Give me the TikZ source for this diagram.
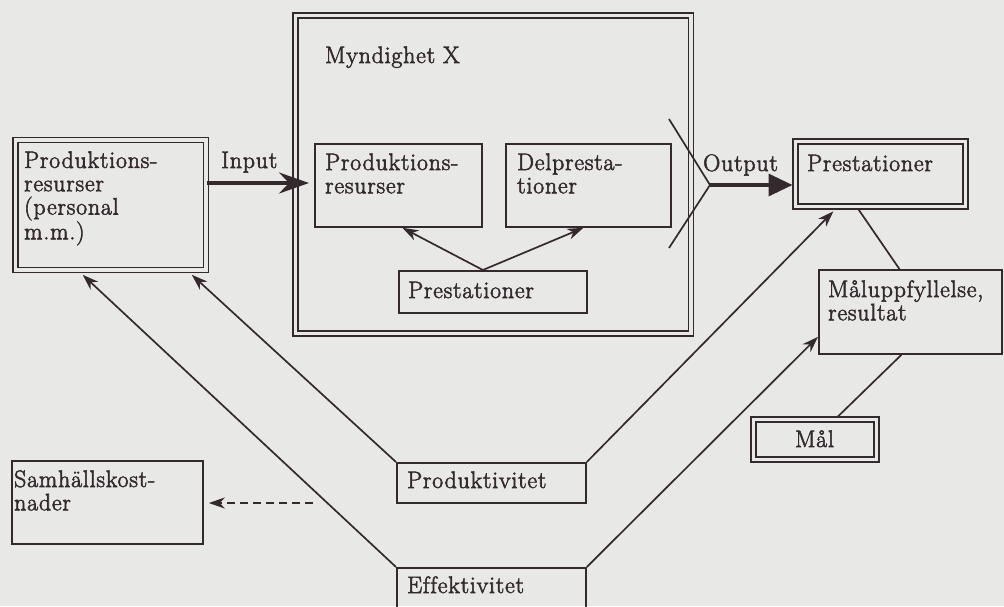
\documentclass[tikz,border=0pt]{standalone}
\usepackage{fontspec}
\usetikzlibrary{arrows.meta,calc}
\newfontfamily\inkfont{Latin Modern Roman}[RawFeature={embolden=2.4}, LetterSpace=3.5, Ligatures=NoCommon]
\definecolor{bg}{RGB}{232,232,230}
\definecolor{ink}{RGB}{52,42,46}
\newcommand\mainsize{\inkfont\fontsize{23.8pt}{23.3pt}\selectfont}
\tikzset{
  box/.style={draw=ink, line width=1.8pt, rectangle, inner sep=0pt, anchor=north west},
  dbox/.style={draw=ink, double=bg, double distance=3.2pt, line width=1.8pt, rectangle, inner sep=0pt, anchor=north west},
  txt/.style={text=ink, inner sep=0pt, anchor=base west, align=left, font=\mainsize},
  conn/.style={draw=ink, line width=1.7pt},
  arr/.style={conn, -{Stealth[length=16pt,width=11pt,inset=5pt]}},
  bigarrin/.style={draw=ink, line width=3.4pt, -{Stealth[length=30pt,width=21pt,inset=10pt]}},
  bigarrout/.style={draw=ink, line width=3.4pt, -{Triangle[length=24pt,width=22pt]}},
  dasharr/.style={conn, dash pattern=on 8pt off 5pt, -{Stealth[length=16pt,width=11pt,inset=5pt]}}
}
\begin{document}
\begin{tikzpicture}[x=1pt,y=-1pt]
\fill[bg] (0,0) rectangle (1004,606);
\useasboundingbox (0,0) rectangle (1004,606);
\clip (0,0) rectangle (1004,606);

% boxes
\node[dbox, minimum width=190.5pt, minimum height=130pt] (LB) at (14.5,139) {};
\node[dbox, minimum width=395.5pt, minimum height=318pt] (MB) at (294.5,14.5) {};
\node[dbox, minimum width=170pt, minimum height=65pt] (RP) at (794.5,140.5) {};
\node[dbox, minimum width=123pt, minimum height=40pt] (MA) at (752.5,418.5) {};
\node[box, minimum width=167pt, minimum height=83pt] (PR) at (314,143) {};
\node[box, minimum width=165pt, minimum height=83pt] (DP) at (505,143) {};
\node[box, minimum width=188pt, minimum height=42pt] (PS) at (398,270) {};
\node[box, minimum width=183pt, minimum height=84pt] (MU) at (818,269) {};
\node[box, minimum width=191pt, minimum height=83pt] (SK) at (11,460) {};
\node[box, minimum width=189pt, minimum height=40pt] (PV) at (396,462) {};
\node[box, minimum width=189pt, minimum height=50pt] (EF) at (396,567) {};

% texts (base = baseline of last line)
\node[txt] (tLB) at (24,239.3) {Produktions-\\resurser\\(personal\\m.m.)};
\node[txt] (tMB) at (325,63) {Myndighet X};
\node[txt] (tPR) at (325,193.3) {Produktions-\\resurser};
\node[txt] (tDP) at (517,193.3) {Delpresta-\\tioner};
\node[txt] (tPS) at (408,298) {Prestationer};
\node[txt] (tRP) at (807,171) {Prestationer};
\node[txt] (tMU) at (828,320.3) {Måluppfyllelse,\\resultat};
\node[txt] (tMA) at (795,447) {Mål};
\node[txt] (tSK) at (14,510.3) {Samhällskost-\\nader};
\node[txt] (tPV) at (407,488) {Produktivitet};
\node[txt] (tEF) at (407,593) {Effektivitet};
\node[txt] (tIn) at (221,168) {Input};
\node[txt] (tOut) at (703,171) {Output};

% input arrow
\draw[bigarrin] (LB.east |- 0,183) -- ($(PR.west |- 0,183)+(-5,0)$);

% output fork
\coordinate (V) at (710,185);
\coordinate (Vu) at (669,119);
\coordinate (Vd) at (669,248);
\draw[conn] (Vu) -- (V) -- (Vd);
\draw[bigarrout] (V) -- ($(V -| RP.west)+(-2,0)$);

% inside Myndighet
\draw[arr] ($(PS.north)+(-10,0)$) -- ($(PR.south)+(4,0)$);
\draw[arr] ($(PS.north)+(-10,0)$) -- ($(DP.south)+(-5,0)$);

% lower connectors
\draw[arr] (PV.north west) -- ($(LB.south east)+(-15,4)$);
\draw[arr] (EF.north west) -- ($(LB.south)+(-28,4)$);
\draw[arr] (PV.north east) -- ($(RP.south)+(-47,4)$);
\draw[arr] (EF.north east) -- ($(MU.south west)+(0,-18)$);
\draw[conn] ($(RP.south)+(-22,2)$) -- ($(MU.north)+(-11,0)$);
\draw[conn] ($(MA.north)+(23,-2)$) -- ($(MU.south)+(-9,0)$);

% dashed
\coordinate (D) at (313,503);
\draw[dasharr] (D) -- ($(SK.east |- D)+(5,0)$);
\end{tikzpicture}
\end{document}
